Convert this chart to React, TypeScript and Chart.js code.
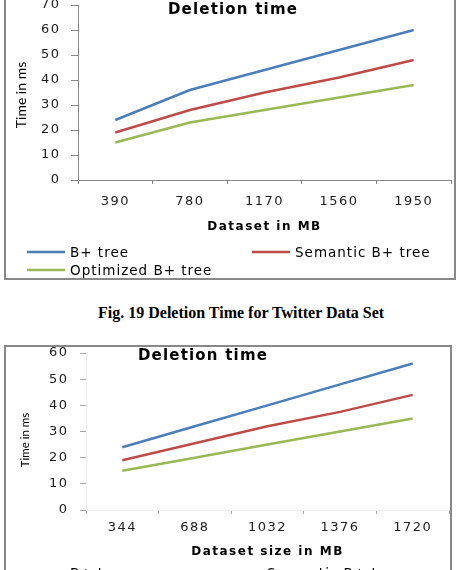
import { useEffect, useRef } from "react";
import { Chart, registerables } from "chart.js";

Chart.register(...registerables);

// Twitter data set (Fig. 19)
const twitterSizes = ["390", "780", "1170", "1560", "1950"];
const twitterBTree = [24, 36, 44, 52, 60];
const twitterSemantic = [19, 28, 35, 41, 48];
const twitterOptimized = [15, 23, 28, 33, 38];

// Second data set
const datasetSizes = ["344", "688", "1032", "1376", "1720"];
const datasetBTree = [24, 32, 40, 48, 56];
const datasetSemantic = [19, 25.5, 32, 37.5, 44];
const datasetOptimized = [15, 20, 25, 30, 35];

const seriesNames = ["B+ tree", "Semantic B+ tree", "Optimized B+ tree"];
const seriesColors = ["#4A7EBB", "#BE4B48", "#98B954"];

const chartTitle = "Deletion time";
const yAxisTitle = "Time in ms";
const twitterXTitle = "Dataset in MB";
const datasetXTitle = "Dataset size in MB";
const caption = "Fig. 19 Deletion Time for Twitter Data Set";

const SANS = "'DejaVu Sans', Verdana, sans-serif";
const TEXT = "#1c1c1c";

type Layout = {
  width: number;
  height: number;
  padding: { left: number; right: number; top: number; bottom: number };
  yMax: number;
  yWidth: number;
  yTick: number;
  yPad: number;
  xHeight: number;
  xTick: number;
  xPad: number;
  axisColor: string;
  tickColor: string;
  title: [number, number];
  yTitle: [number, number];
  yTitleSize: number;
  legend: [number, number][];
};

// Overlaid chart title, rotated value-axis title and the Excel-style legend
function decorPlugin(l: Layout) {
  return {
    id: "decor",
    beforeDraw(chart: Chart) {
      (chart.ctx as any).letterSpacing = "1.5px";
    },
    afterDraw(chart: Chart) {
      const ctx = chart.ctx as any;
      ctx.save();
      ctx.fillStyle = "#000";
      ctx.textAlign = "center";
      ctx.textBaseline = "middle";
      ctx.letterSpacing = "1.2px";
      ctx.font = `bold 15px ${SANS}`;
      ctx.fillText(chartTitle, l.title[0], l.title[1]);

      ctx.letterSpacing = "0px";
      ctx.font = `${l.yTitleSize}px Lato, 'Liberation Sans', sans-serif`;
      ctx.translate(l.yTitle[0], l.yTitle[1]);
      ctx.rotate(-Math.PI / 2);
      ctx.fillText(yAxisTitle, 0, 0);
      ctx.restore();

      ctx.save();
      ctx.letterSpacing = "1px";
      ctx.font = `13.5px ${SANS}`;
      ctx.textAlign = "left";
      ctx.textBaseline = "middle";
      chart.data.datasets.forEach((ds: any, i: number) => {
        const pos = l.legend[i];
        if (!pos) return;
        ctx.strokeStyle = ds.borderColor;
        ctx.lineWidth = 2.5;
        ctx.beginPath();
        ctx.moveTo(pos[0], pos[1]);
        ctx.lineTo(pos[0] + 38, pos[1]);
        ctx.stroke();
        ctx.fillStyle = "#000";
        ctx.fillText(ds.label, pos[0] + 43, pos[1] + 1);
      });
      ctx.restore();
    },
  };
}

function LineChart(props: {
  labels: string[];
  series: number[][];
  xTitle: string;
  layout: Layout;
}) {
  const ref = useRef<HTMLCanvasElement>(null);
  const { labels, series, xTitle, layout: l } = props;

  useEffect(() => {
    const chart = new Chart(ref.current!, {
      type: "line",
      data: {
        labels,
        datasets: series.map((values, i) => ({
          label: seriesNames[i],
          data: values,
          borderColor: seriesColors[i],
          backgroundColor: seriesColors[i],
          borderWidth: 2.5,
          pointRadius: 0,
          tension: 0,
          fill: false,
        })),
      },
      options: {
        responsive: false,
        animation: false,
        devicePixelRatio: 1,
        layout: { padding: l.padding },
        plugins: {
          legend: { display: false },
          title: { display: false },
          tooltip: { enabled: false },
        },
        scales: {
          x: {
            type: "category",
            offset: true,
            grid: {
              display: true,
              offset: true,
              drawOnChartArea: false,
              drawTicks: true,
              tickLength: l.xTick,
              color: l.tickColor,
            },
            border: { display: true, color: l.axisColor },
            ticks: {
              font: { family: SANS, size: 13 },
              color: TEXT,
              padding: l.xPad,
              maxRotation: 0,
              autoSkip: false,
            },
            title: {
              display: true,
              text: xTitle,
              color: "#000",
              font: { family: SANS, size: 12, weight: "bold" },
              padding: { top: 0, bottom: 1 },
            },
            afterFit: (s: any) => {
              s.height = l.xHeight;
              s.paddingLeft = 0;
              s.paddingRight = 0;
            },
          },
          y: {
            min: 0,
            max: l.yMax,
            grid: {
              display: true,
              drawOnChartArea: false,
              drawTicks: true,
              tickLength: l.yTick,
              color: l.tickColor,
            },
            border: { display: true, color: l.axisColor },
            ticks: {
              stepSize: 10,
              font: { family: SANS, size: 13 },
              color: TEXT,
              padding: l.yPad,
            },
            afterFit: (s: any) => {
              s.width = l.yWidth;
              s.paddingTop = 0;
              s.paddingBottom = 0;
            },
          },
        },
      },
      plugins: [decorPlugin(l)],
    } as any);
    return () => chart.destroy();
  }, []);

  return (
    <canvas
      ref={ref}
      width={l.width}
      height={l.height}
      style={{ display: "block", width: l.width, height: l.height }}
    />
  );
}

const twitterLayout: Layout = {
  width: 448,
  height: 288,
  padding: { left: 0, right: 3, top: 15, bottom: 43 },
  yMax: 70,
  yWidth: 72,
  yTick: 7,
  yPad: 10.5,
  xHeight: 55,
  xTick: 4,
  xPad: 10,
  axisColor: "#868686",
  tickColor: "#868686",
  title: [227, 20],
  yTitle: [15, 105],
  yTitleSize: 14,
  legend: [
    [21, 262],
    [246, 262],
    [21, 280],
  ],
};

const datasetLayout: Layout = {
  width: 444,
  height: 256,
  padding: { left: 0, right: 1, top: 6, bottom: 43 },
  yMax: 60,
  yWidth: 80,
  yTick: 6,
  yPad: 11.5,
  xHeight: 50,
  xTick: 4,
  xPad: 6,
  axisColor: "#eeeeee",
  tickColor: "#a8a8a8",
  title: [197, 9],
  yTitle: [19, 93],
  yTitleSize: 11.5,
  legend: [
    [21, 226],
    [218, 226],
    [21, 244],
  ],
};

const frame: React.CSSProperties = {
  position: "absolute",
  boxSizing: "border-box",
  border: "2px solid #888888",
  background: "#fff",
  overflow: "hidden",
};

export default function App() {
  return (
    <div
      style={{
        position: "fixed",
        left: 0,
        top: 0,
        width: 460,
        height: 570,
        overflow: "hidden",
        background: "#fff",
      }}
    >
      <div style={{ ...frame, left: 4, top: -12, width: 452, height: 292 }}>
        <LineChart
          labels={twitterSizes}
          series={[twitterBTree, twitterSemantic, twitterOptimized]}
          xTitle={twitterXTitle}
          layout={twitterLayout}
        />
      </div>
      <div
        style={{
          position: "absolute",
          left: 98,
          top: 303,
          lineHeight: "20px",
          whiteSpace: "nowrap",
          fontFamily: "'Liberation Serif', 'Times New Roman', serif",
          fontWeight: "bold",
          fontSize: 16,
          color: "#000",
        }}
      >
        {caption}
      </div>
      <div style={{ ...frame, left: 4, top: 345, width: 448, height: 260 }}>
        <LineChart
          labels={datasetSizes}
          series={[datasetBTree, datasetSemantic, datasetOptimized]}
          xTitle={datasetXTitle}
          layout={datasetLayout}
        />
      </div>
    </div>
  );
}
